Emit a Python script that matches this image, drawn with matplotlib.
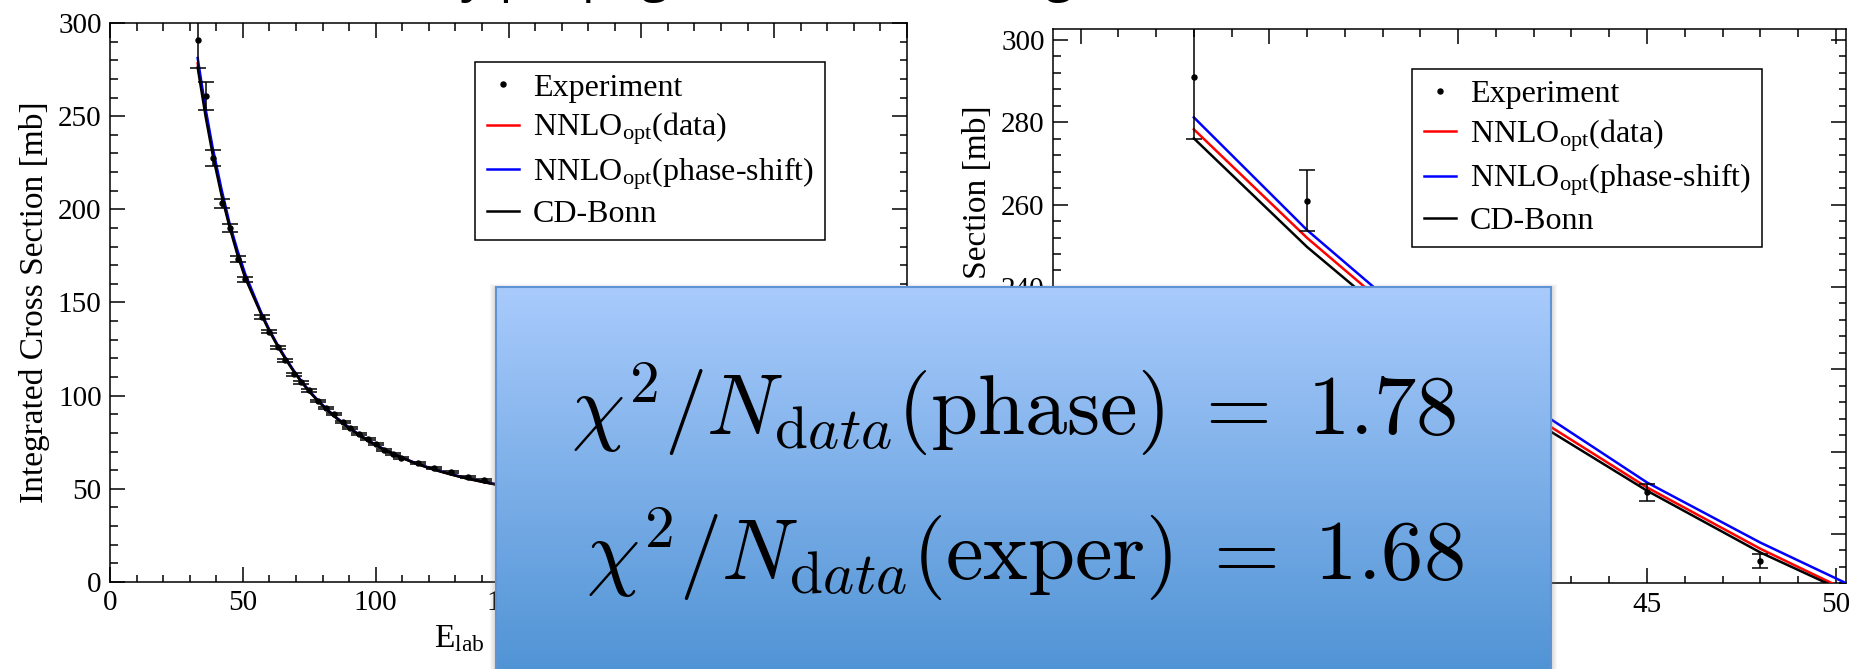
import numpy as np
import matplotlib
matplotlib.use("Agg")
import matplotlib.pyplot as plt
from matplotlib.ticker import MultipleLocator
from matplotlib.patches import Rectangle
from matplotlib.lines import Line2D

# Measured integrated np cross sections [mb] vs. lab energy [MeV]
E_exp = [33.0, 36.0, 38.6, 42.0, 45.0, 48.0, 50.9, 57.2, 60.0, 63.1, 66.0, 69.1,
         71.9, 75.0, 78.2, 81.3, 84.4, 87.6, 90.4, 93.8, 97.0, 100.1, 103.2,
         106.4, 109.5, 115.8, 122.1, 128.3, 134.6, 140.9]
sigma_exp = [291.0, 261.0, 227.6, 203.2, 190.1, 173.4, 162.5, 142.4, 134.2, 126.0,
             118.9, 111.5, 107.2, 102.9, 97.3, 93.5, 90.2, 86.0, 82.5, 79.4, 76.6,
             73.9, 70.8, 68.7, 66.4, 63.7, 61.0, 59.2, 56.5, 54.7]
sigma_err = [15.0, 7.5, 4.2, 2.5, 2.0, 1.7, 1.3, 1.0, 0.8, 0.8, 0.8, 0.7, 0.7,
             0.7, 0.6, 0.6, 0.6, 0.6, 0.5, 0.5, 0.5, 0.5, 0.5, 0.5, 0.5, 0.5,
             0.5, 0.5, 0.5, 0.5]

# Model predictions at the same energies
E_th = [33.0, 36.0, 38.6, 42.0, 45.0, 48.0, 50.9, 57.2, 60.0, 63.1, 66.0, 69.1,
        71.9, 75.0, 78.2, 81.3, 84.4, 87.6, 90.4, 93.8, 97.0, 100.1, 103.2,
        106.4, 109.5, 115.8, 122.1, 128.3, 134.6, 140.9, 150.0]
sigma_nnlo_data = [278.3, 251.9, 231.6, 208.6, 191.3, 176.4, 163.6, 143.2, 135.0,
                   126.9, 120.1, 113.4, 107.9, 102.4, 97.4, 93.1, 89.1, 85.4, 82.4,
                   79.0, 76.1, 73.5, 71.1, 68.9, 66.9, 63.3, 60.3, 57.8, 55.5,
                   53.6, 51.1]
sigma_nnlo_phase = [281.2, 253.8, 233.4, 210.6, 192.5, 177.9, 165.3, 143.6, 135.3,
                    127.2, 120.4, 113.6, 108.1, 102.6, 97.6, 93.2, 89.2, 85.5, 82.5,
                    79.1, 76.2, 73.6, 71.2, 69.0, 67.0, 63.4, 60.4, 57.9, 55.6,
                    53.7, 51.2]
sigma_cdbonn = [276.1, 249.7, 229.7, 207.4, 190.5, 175.5, 163.2, 142.8, 134.6,
                126.6, 119.8, 113.1, 107.6, 102.2, 97.2, 92.9, 88.9, 85.2, 82.2,
                78.9, 76.0, 73.4, 71.0, 68.8, 66.8, 63.2, 60.2, 57.7, 55.4,
                53.5, 51.0]

series_labels = ["Experiment", r"NNLO$_{\mathrm{opt}}$(data)",
                 r"NNLO$_{\mathrm{opt}}$(phase-shift)", "CD-Bonn"]
chi2_lines = [r"$\chi^2/N_{\mathrm{d}ata}(\mathrm{phase})\;=\;1.78$",
              r"$\chi^2/N_{\mathrm{d}ata}(\mathrm{exper})\;=\;1.68$"]
slide_title = "Uncertainty propagation to the integrated cross section"

plt.rcParams.update({
    "font.family": "Liberation Serif",
    "mathtext.fontset": "custom",
    "mathtext.rm": "Liberation Serif",
    "mathtext.it": "Liberation Serif:italic",
    "mathtext.bf": "Liberation Serif:bold",
})

W, H = 1862, 669
fig = plt.figure(figsize=(W / 100, H / 100), dpi=100)
fig.patch.set_facecolor("white")


def px_axes(left, top, right, bottom):
    return fig.add_axes([left / W, 1 - bottom / H, (right - left) / W, (bottom - top) / H])


def draw_panel(ax, xlim, ylim, xmaj, xmin, ymaj, ymin, legend_anchor):
    ax.plot(E_th, sigma_nnlo_data, color="red", lw=1.8, zorder=3)
    ax.plot(E_th, sigma_nnlo_phase, color="blue", lw=1.8, zorder=3)
    ax.plot(E_th, sigma_cdbonn, color="black", lw=1.8, zorder=3)
    ax.errorbar(E_exp, sigma_exp, yerr=sigma_err, fmt="o", ms=3.6, color="black",
                ecolor="black", elinewidth=1.1, capsize=6, capthick=1.1, zorder=4)
    ax.set_xlim(*xlim)
    ax.set_ylim(*ylim)
    ax.xaxis.set_major_locator(MultipleLocator(xmaj))
    ax.xaxis.set_minor_locator(MultipleLocator(xmin))
    ax.yaxis.set_major_locator(MultipleLocator(ymaj))
    ax.yaxis.set_minor_locator(MultipleLocator(ymin))
    ax.tick_params(which="both", direction="in", top=True, right=True,
                   width=1.1, labelsize=21, pad=6)
    ax.tick_params(which="major", length=10.8)
    ax.tick_params(which="minor", length=5.4)
    for s in ax.spines.values():
        s.set_linewidth(1.1)
    ax.set_ylabel("Integrated Cross Section [mb]", fontsize=24, labelpad=6)
    ax.set_xlabel(r"E$_{\mathrm{lab}}$ [MeV]", fontsize=24, labelpad=4)

    handles = [
        Line2D([], [], ls="none", marker="o", ms=3.6, color="black"),
        Line2D([], [], color="red", lw=1.8),
        Line2D([], [], color="blue", lw=1.8),
        Line2D([], [], color="black", lw=1.8),
    ]
    leg = ax.legend(handles, series_labels, loc="upper right",
                    bbox_to_anchor=legend_anchor, fontsize=23, frameon=True,
                    fancybox=False, framealpha=1, edgecolor="black",
                    handlelength=1.0, handletextpad=0.45, labelspacing=0.25,
                    borderpad=0.35, borderaxespad=0)
    leg.get_frame().set_linewidth(1.1)


ax1 = px_axes(110, 23, 907, 582)
draw_panel(ax1, (0, 300), (0, 300), 50, 10, 50, 10, (0.897, 0.930))

ax2 = px_axes(1053, 29.3, 1846, 583.3)
draw_panel(ax2, (29.27, 50.27), (168, 302.6), 5, 1, 20, 4, (0.894, 0.929))

# Slide title running off the top edge
fig.text(211 / W, 1 + 9 / H, slide_title, family="Open Sans", fontsize=36.5,
         va="baseline", ha="left", color="black")

# Highlight box with a vertical gradient and soft shadow
bl, bt, br = 496, 287, 1551
for i in range(6):
    fig.patches.append(Rectangle(((bl - 6 + i) / W, -0.02), (br - bl + 12 - 2 * i) / W,
                                 (H - bt + 3 - i) / H + 0.02, transform=fig.transFigure,
                                 facecolor="#808080", edgecolor="none", alpha=0.05,
                                 zorder=1))
bx = fig.add_axes([bl / W, -0.02, (br - bl) / W, (H - bt) / H + 0.02])
bx.set_zorder(5)
grad = np.linspace(0, 1, 256)[:, None, None]
top_c = np.array([169, 203, 252]) / 255
bot_c = np.array([78, 146, 212]) / 255
bx.imshow(top_c + (bot_c - top_c) * grad, aspect="auto", extent=[0, 1, 0, 1],
          origin="upper")
bx.set_xticks([])
bx.set_yticks([])
for s in bx.spines.values():
    s.set_color("#5f93d3")
    s.set_linewidth(1.5)

fig.text(1014 / W, 1 - 435 / H, chi2_lines[0], ha="center", va="baseline",
         fontsize=61, math_fontfamily="cm", zorder=10)
fig.text(1025 / W, 1 - 580 / H, chi2_lines[1], ha="center", va="baseline",
         fontsize=61, math_fontfamily="cm", zorder=10)

fig.savefig("out.png", dpi=100)
